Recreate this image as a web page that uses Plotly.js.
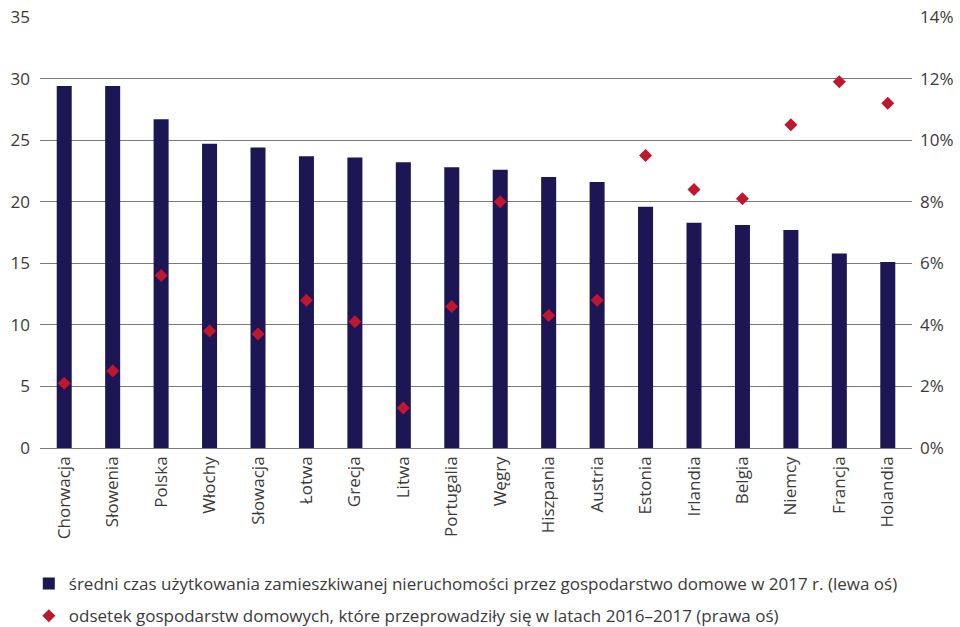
<!DOCTYPE html>
<html>
<head>
<meta charset="utf-8">
<script src="https://cdn.plot.ly/plotly-3.0.1.min.js"></script>
<style>
  html, body { margin: 0; padding: 0; background: #ffffff; }
  #chart { width: 960px; height: 627px; }
</style>
</head>
<body>
<div id="chart"></div>
<script>
// Countries along the horizontal axis
const countries = [
  'Chorwacja', 'Słowenia', 'Polska', 'Włochy', 'Słowacja', 'Łotwa',
  'Grecja', 'Litwa', 'Portugalia', 'Węgry', 'Hiszpania', 'Austria',
  'Estonia', 'Irlandia', 'Belgia', 'Niemcy', 'Francja', 'Holandia'
];

// Average years a household has used its dwelling, 2017 (left axis)
const avgTenureYears = [
  29.4, 29.4, 26.7, 24.7, 24.4, 23.7,
  23.6, 23.2, 22.8, 22.6, 22.0, 21.6,
  19.6, 18.3, 18.1, 17.7, 15.8, 15.1
];

// Share of households that moved in 2016–2017, % (right axis)
const movedShare = [
  2.1, 2.5, 5.6, 3.8, 3.7, 4.8,
  4.1, 1.3, 4.6, 8.0, 4.3, 4.8,
  9.5, 8.4, 8.1, 10.5, 11.9, 11.2
];

const leftTicks = [0, 5, 10, 15, 20, 25, 30, 35];
const rightTicks = [0, 2, 4, 6, 8, 10, 12, 14];

const barName = 'średni czas użytkowania zamieszkiwanej nieruchomości przez gospodarstwo domowe w 2017 r. (lewa oś)';
const dotName = 'odsetek gospodarstw domowych, które przeprowadziły się w latach 2016–2017 (prawa oś)';

const textColor = '#3a3a3a';
const fontFamily = '"Open Sans", "Noto Sans", "DejaVu Sans", sans-serif';

const traces = [
  {
    type: 'bar',
    x: countries,
    y: avgTenureYears,
    name: barName,
    legendgroup: 'a',
    marker: { color: '#1d1655', line: { width: 0 } },
    hoverinfo: 'x+y'
  },
  {
    type: 'scatter',
    mode: 'markers',
    x: countries,
    y: movedShare,
    yaxis: 'y2',
    name: dotName,
    legendgroup: 'b',
    marker: { symbol: 'diamond', size: 10, color: '#c0172f' },
    hoverinfo: 'x+y'
  }
];

const layout = {
  width: 960,
  height: 627,
  paper_bgcolor: '#ffffff',
  plot_bgcolor: '#ffffff',
  margin: { l: 40, r: 48, t: 17, b: 179, autoexpand: false },
  font: { family: fontFamily, color: textColor, size: 17 },
  bargap: 0.69,
  showlegend: true,
  legend: {
    orientation: 'v',
    xref: 'container',
    yref: 'container',
    x: 0.03,
    xanchor: 'left',
    y: 0.043,
    yanchor: 'middle',
    font: { family: fontFamily, size: 17, color: textColor },
    traceorder: 'grouped',
    tracegroupgap: 7,
    itemwidth: 30,
    bgcolor: 'rgba(0,0,0,0)'
  },
  xaxis: {
    type: 'category',
    range: [-0.5, countries.length - 0.5],
    automargin: false,
    tickangle: -90,
    tickfont: { family: fontFamily, size: 17, color: textColor },
    showgrid: false,
    showline: false,
    zeroline: false,
    ticks: '',
    ticklabelstandoff: 4,
    fixedrange: true
  },
  yaxis: {
    automargin: false,
    range: [0, 35],
    tickvals: leftTicks,
    ticktext: leftTicks.map(String),
    showgrid: true,
    gridcolor: '#7a7a7a',
    gridwidth: 1,
    zeroline: true,
    zerolinecolor: '#7a7a7a',
    zerolinewidth: 1,
    showline: false,
    ticks: '',
    ticklabelstandoff: 9,
    tickfont: { family: fontFamily, size: 17, color: textColor },
    fixedrange: true
  },
  yaxis2: {
    automargin: false,
    overlaying: 'y',
    side: 'right',
    range: [0, 14],
    tickvals: rightTicks,
    ticktext: rightTicks.map(v => v + '%'),
    showgrid: false,
    zeroline: false,
    showline: false,
    ticks: '',
    ticklabelstandoff: 7,
    tickfont: { family: fontFamily, size: 17, color: textColor },
    fixedrange: true
  }
};

Plotly.newPlot('chart', traces, layout, { displayModeBar: false, staticPlot: true });
</script>
</body>
</html>
